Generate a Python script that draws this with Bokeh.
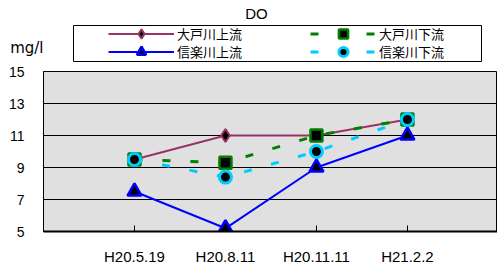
from bokeh.plotting import figure
from bokeh.layouts import column
from bokeh.models import (Range1d, FixedTicker, Legend, LegendItem, Label,
                          BoxAnnotation)
from bokeh.embed import file_html
from bokeh.resources import INLINE

categories = ["H20.5.19", "H20.8.11", "H20.11.11", "H21.2.2"]
oto_up = [9.5, 11.0, 11.0, 12.0]      # 大戸川上流
oto_down = [9.5, 9.3, 11.0, 12.0]     # 大戸川下流
shiga_up = [7.5, 5.2, 9.0, 11.0]      # 信楽川上流
shiga_down = [9.5, 8.4, 10.0, 12.0]   # 信楽川下流
series_names = ["大戸川上流", "大戸川下流", "信楽川上流", "信楽川下流"]
y_ticks = [5, 7, 9, 11, 13, 15]
chart_title = "DO"
unit_text = "mg/l"

x = list(range(1, len(categories) + 1))

purple = "#993366"
green = "#008000"
blue = "#0000ff"
cyan = "#00ccff"

styles = [
    dict(color=purple, lw=2, dash="solid", marker="diamond", size=13, mlw=2),
    dict(color=green, lw=3, dash="8 20", marker="square", size=12, mlw=2.5),
    dict(color=blue, lw=2, dash="solid", marker="triangle", size=14, mlw=2.5),
    dict(color=cyan, lw=3, dash="8 20", marker="circle", size=12, mlw=3),
]
series_values = [oto_up, oto_down, shiga_up, shiga_down]

LEFT = 43

# ---------------- header (title, unit, legend) ----------------
TOP_H = 63
top = figure(width=497, height=TOP_H, output_backend="svg", toolbar_location=None,
             x_range=Range1d(LEFT, 497), y_range=Range1d(TOP_H, 0),
             min_border_left=LEFT, min_border_right=0,
             min_border_top=0, min_border_bottom=0)
top.xaxis.visible = False
top.grid.visible = False
top.outline_line_color = None
top.background_fill_color = "white"
top.border_fill_color = "white"
# unit label shown as the single label of the header's left axis
top.yaxis.ticker = FixedTicker(ticks=[47.5])
top.yaxis.major_label_overrides = {47.5: unit_text}
top.yaxis.axis_line_color = None
top.yaxis.major_tick_line_color = None
top.yaxis.minor_tick_line_color = None
top.yaxis.major_tick_in = 0
top.yaxis.major_tick_out = 0
top.yaxis.major_label_standoff = 0
top.yaxis.major_label_text_font = "DejaVu Sans"
top.yaxis.major_label_text_font_size = "15px"
top.yaxis.major_label_text_color = "black"

box = BoxAnnotation(left=73, right=481, top=25, bottom=61,
                    fill_color="white", fill_alpha=1,
                    line_color="black", line_width=1, line_alpha=1)
top.add_layout(box)

legend_renderers = []
for st in styles:
    lr = top.line([-1000, -999], [-1000, -999], line_color=st["color"],
                  line_width=st["lw"], line_dash=st["dash"])
    sr = top.scatter([-1000], [-1000], marker=st["marker"], size=st["size"],
                     fill_color="black", line_color=st["color"],
                     line_width=st["mlw"])
    legend_renderers.append([lr, sr])


def make_legend(i, loc):
    items = [LegendItem(label=series_names[i], renderers=legend_renderers[i])]
    return Legend(items=items, location=loc, orientation="vertical",
                  border_line_color=None, background_fill_alpha=0,
                  padding=0, margin=0, spacing=0, glyph_width=66,
                  glyph_height=23, label_height=13, label_standoff=3,
                  label_text_font="Noto Sans CJK JP",
                  label_text_font_size="13px", label_text_color="black")


col_x = [108 - LEFT, 310 - LEFT, 108 - LEFT, 310 - LEFT]
row_y = [18, 18, 0, 0]
for i in range(len(series_names)):
    top.add_layout(make_legend(i, (col_x[i], row_y[i])))

top.add_layout(Label(x=256, y=13, text=chart_title, text_align="center",
                     text_baseline="middle", text_font="Liberation Sans",
                     text_font_size="15px", text_color="black"))

# ---------------- chart ----------------
p = figure(width=497, height=268 - TOP_H, output_backend="svg",
           toolbar_location=None,
           x_range=Range1d(0, 4.99), y_range=Range1d(5, 15),
           min_border_left=LEFT, min_border_right=0, min_border_top=8,
           min_border_bottom=37)
p.background_fill_color = "#e0e0e0"
p.border_fill_color = "white"
p.outline_line_color = "black"
p.outline_line_width = 1

p.xgrid.visible = False
p.ygrid.grid_line_color = "black"
p.ygrid.grid_line_width = 1
p.ygrid.ticker = FixedTicker(ticks=y_ticks)

p.xaxis.ticker = FixedTicker(ticks=x)
p.xaxis.major_label_overrides = {i: c for i, c in zip(x, categories)}
p.xaxis.major_tick_in = 6
p.xaxis.major_tick_out = 0
p.xaxis.minor_tick_line_color = None
p.xaxis.axis_line_color = "black"
p.xaxis.axis_line_width = 2
p.xaxis.major_tick_line_color = "black"
p.xaxis.major_label_standoff = 16
p.xaxis.major_label_text_font = "Liberation Sans"
p.xaxis.major_label_text_font_size = "15px"
p.xaxis.major_label_text_color = "black"

p.yaxis.ticker = FixedTicker(ticks=y_ticks)
p.yaxis.major_tick_in = 0
p.yaxis.major_tick_out = 0
p.yaxis.minor_tick_line_color = None
p.yaxis.axis_line_color = "black"
p.yaxis.major_label_standoff = 19
p.yaxis.major_label_text_font = "Liberation Sans"
p.yaxis.major_label_text_font_size = "14px"
p.yaxis.major_label_text_color = "black"

for vals, st in zip(series_values, styles):
    p.line(x, vals, line_color=st["color"], line_width=st["lw"],
           line_dash=st["dash"])
    p.scatter(x, vals, marker=st["marker"], size=st["size"],
              fill_color="black", line_color=st["color"],
              line_width=st["mlw"])

layout = column(top, p, spacing=0)
open("out.html", "w").write(file_html(layout, INLINE))
